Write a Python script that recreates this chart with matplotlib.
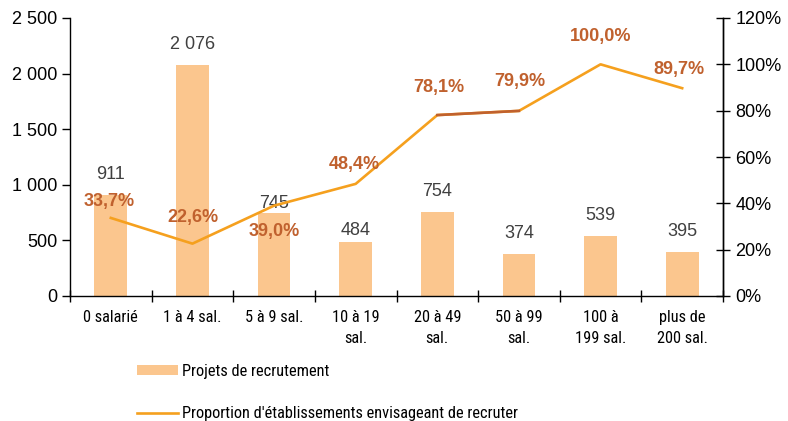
import matplotlib
matplotlib.use("Agg")
import matplotlib.pyplot as plt
from matplotlib.ticker import FuncFormatter, MultipleLocator
from matplotlib.textpath import TextPath
from matplotlib.font_manager import FontProperties

plt.rcParams['font.family'] = ['Liberation Sans', 'DejaVu Sans']
NARROW = ['Roboto Condensed', 'Liberation Sans', 'DejaVu Sans']

categories = ["0 salarié", "1 à 4 sal.", "5 à 9 sal.", "10 à 19\nsal.", "20 à 49\nsal.",
              "50 à 99\nsal.", "100 à\n199 sal.", "plus de\n200 sal."]
projets = [911, 2076, 745, 484, 754, 374, 539, 395]
proportion = [33.7, 22.6, 39.0, 48.4, 78.1, 79.9, 100.0, 89.7]
bar_label_offsets = [20, 21, 10, 12, 21, 21, 21, 21]          # px above bar top (label centre)
pct_label_offsets = [-16, -26, 26, -19, -28, -29, -28, -19]   # px (negative = above)
pct_label_dx = [-2, 1, 0, -1, 1, 1, 0, -3]
legend_labels = ["Projets de recrutement", "Proportion d'établissements envisageant de recruter"]

BAR = "#FBC68E"
LINE = "#F5A01E"
DARK = "#C0612E"
TXT = "#404040"

# size the condensed font so that the first legend label is ~146 px wide
fp = FontProperties(family=NARROW[0])
w100 = TextPath((0, 0), legend_labels[0], size=100, prop=fp).get_extents().width
NSIZE = 146 / (w100 / 100) * 72 / 100
NPX = NSIZE * 100 / 72

fig = plt.figure(figsize=(7.88, 4.21), dpi=100)
ax = fig.add_axes([70/788, 1-296/421, (723-70)/788, (296-18)/421])
ax2 = ax.twinx()

x = list(range(len(categories)))
bars = ax.bar(x, projets, width=0.4, color=BAR, zorder=1, label=legend_labels[0])
ax.set_xlim(-0.5, len(categories)-0.5)
ax.set_ylim(0, 2500)
ax.yaxis.set_major_locator(MultipleLocator(500))
ax.yaxis.set_major_formatter(FuncFormatter(lambda v, p: f"{int(v):,}".replace(",", " ")))

ax2.set_ylim(0, 120)
ax2.yaxis.set_major_locator(MultipleLocator(20))
ax2.yaxis.set_major_formatter(FuncFormatter(lambda v, p: f"{int(v)}%"))
line, = ax2.plot(x, proportion, color=LINE, lw=1.9, zorder=3, label=legend_labels[1])
ax2.plot(x[4:6], proportion[4:6], color=DARK, lw=1.9, zorder=4)

ax.set_zorder(1)
ax2.set_zorder(2)
ax.patch.set_visible(False)

# x ticks at boundaries
ax.set_xticks([i - 0.5 for i in range(len(categories)+1)])
ax.set_xticklabels([])
ax.set_xticks(x, minor=True)
ax.set_xticklabels(categories, minor=True, fontsize=NSIZE, linespacing=1.5, family=NARROW)
ax.tick_params(axis='x', which='minor', length=0, pad=10, colors='black')
ax.tick_params(axis='x', which='major', direction='inout', length=8, width=1)
ax.tick_params(axis='y', direction='out', length=6, width=1, labelsize=13, pad=3)
ax2.tick_params(axis='y', direction='inout', length=10, width=1, labelsize=13, pad=4)

for a in (ax, ax2):
    a.spines['top'].set_visible(False)
    for s in a.spines.values():
        s.set_linewidth(1)
        s.set_color('black')
ax2.spines['left'].set_visible(False)
ax2.spines['bottom'].set_visible(False)

px = 72/100
for i, (v, off) in enumerate(zip(projets, bar_label_offsets)):
    ax.annotate(f"{v:,}".replace(",", " "), (i, v), xytext=(0, off*px), textcoords='offset points',
                ha='center', va='center', fontsize=13, color=TXT, zorder=5)

for i, (v, off, dx) in enumerate(zip(proportion, pct_label_offsets, pct_label_dx)):
    ax2.annotate(f"{v:.1f}%".replace(".", ","), (i, v), xytext=(dx*px, -off*px),
                 textcoords='offset points', ha='center', va='center',
                 fontsize=13, fontweight='bold', color=DARK, zorder=6)

fig.legend(handles=[bars, line], labels=legend_labels, loc='upper left',
           bbox_to_anchor=(137/788, 1-364/421),
           frameon=False, prop={'family': NARROW, 'size': NSIZE},
           handlelength=41/NPX, handleheight=0.57,
           handletextpad=0.25, labelspacing=1.65, borderpad=0, borderaxespad=0)

fig.savefig("out.png", dpi=100)
